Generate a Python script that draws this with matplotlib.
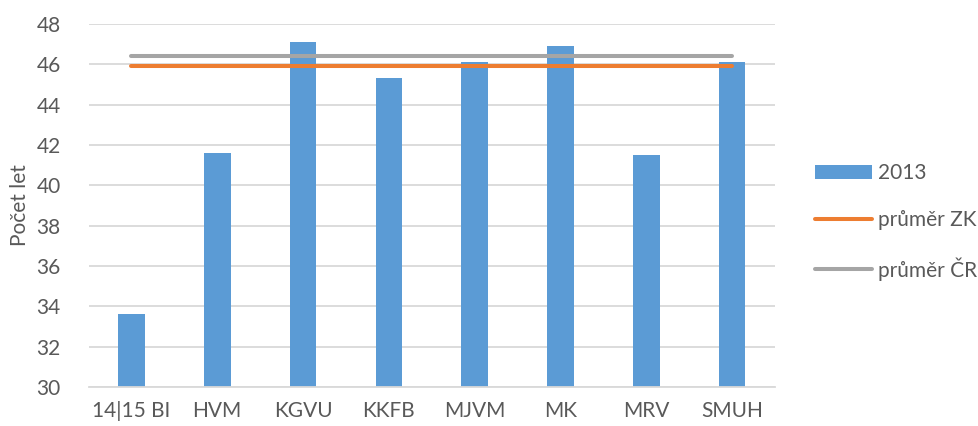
import matplotlib.pyplot as plt
import numpy as np

# Data
kategorie = ["14|15 BI", "HVM", "KGVU", "KKFB", "MJVM", "MK", "MRV", "SMUH"]
vek_2013 = [33.6, 41.6, 47.1, 45.3, 46.1, 46.9, 41.5, 46.1]
prumer_zk = 45.9
prumer_cr = 46.4
y_ticks = [30, 32, 34, 36, 38, 40, 42, 44, 46, 48]

plt.rcParams["font.family"] = ["Lato", "DejaVu Sans"]
text_color = "#595959"
fs = 15

fig = plt.figure(figsize=(9.79, 4.26), dpi=100)
ax = fig.add_axes([0.0904, 0.0915, 0.7012, 0.8522])

x = np.arange(len(kategorie))
bary = ax.bar(x, vek_2013, width=0.31, color="#5b9bd5", label="2013", zorder=2)
l_zk, = ax.plot(x, [prumer_zk] * len(x), color="#ed7d31", lw=2.9,
                solid_capstyle="round", label="průměr ZK", zorder=3)
l_cr, = ax.plot(x, [prumer_cr] * len(x), color="#a5a5a5", lw=2.9,
                solid_capstyle="round", label="průměr ČR", zorder=3)

ax.set_xlim(-0.5, len(kategorie) - 0.5)
ax.set_ylim(30, 48)
ax.set_yticks(y_ticks)
ax.set_xticks(x)
ax.set_xticklabels(kategorie)
ax.yaxis.grid(True, color="#d9d9d9", lw=1.3, zorder=0)
ax.set_axisbelow(True)

for s in ["top", "right", "left"]:
    ax.spines[s].set_visible(False)
ax.spines["bottom"].set_color("#d9d9d9")
ax.spines["bottom"].set_linewidth(1.3)
ax.tick_params(axis="both", length=0, labelsize=fs, colors=text_color)
ax.tick_params(axis="y", pad=20)
ax.tick_params(axis="x", pad=10)
ax.set_ylabel("Počet let", fontsize=fs, color=text_color, labelpad=5)

leg = fig.legend([bary, l_zk, l_cr], ["2013", "průměr ZK", "průměr ČR"],
                 loc="center left", bbox_to_anchor=(0.826, 0.479),
                 frameon=False, fontsize=fs, handlelength=2.75,
                 handletextpad=0.3, labelspacing=1.3, borderaxespad=0,
                 borderpad=0.3)
for t in leg.get_texts():
    t.set_color(text_color)

plt.savefig("out.png", dpi=100)
